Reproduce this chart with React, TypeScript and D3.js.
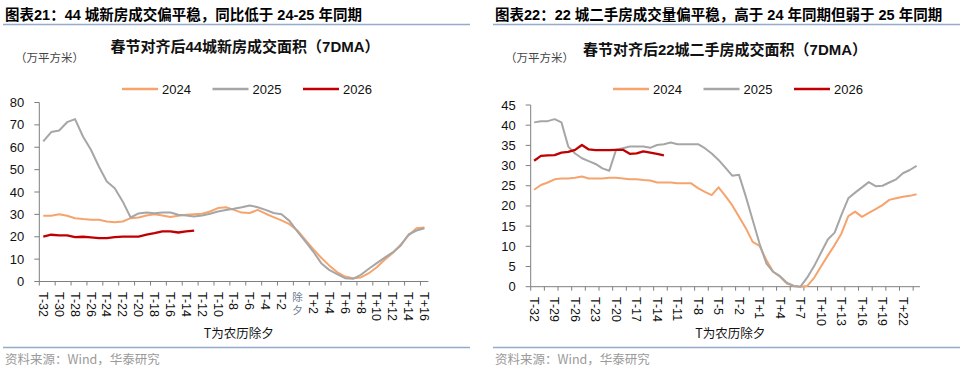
import React, { useRef, useEffect } from "react";
import * as d3 from "d3";

// category labels: T-n ... T-1, 除夕, T+1 ... T+n
const makeDays = (before: number, after: number) => {
  const out: string[] = [];
  for (let k = before; k >= 1; k--) out.push(`T-${k}`);
  out.push("除夕");
  for (let k = 1; k <= after; k++) out.push(`T+${k}`);
  return out;
};

const years = ["2024", "2025", "2026"];
const colors = ["#F5A46E", "#A6A6A6", "#C00000"];

// 44城新房
const newCats = makeDays(32, 16);
const new2024 = [
  29.4, 29.4, 30.1, 29.4, 28.3, 27.9, 27.6, 27.6, 26.8, 26.5, 26.8, 28.3, 28.6,
  29.5, 30.1, 29.5, 28.8, 29.4, 29.8, 30.1, 30.3, 31.3, 32.8, 33.2, 32.0, 30.8,
  30.6, 32.0, 30.3, 28.8, 27.3, 25.6, 22.8, 18.6, 14.5, 10.6, 7.2, 4.2, 2.2, 1.5,
  1.8, 3.7, 6.4, 9.7, 12.7, 16.4, 20.6, 23.8, 24.1,
];
const new2025 = [
  62.6, 66.8, 67.5, 71.2, 72.6, 64.8, 58.9, 51.4, 44.7, 41.7, 35.8, 28.6, 30.4,
  30.8, 30.5, 30.8, 30.8, 29.8, 29.5, 29.1, 29.5, 30.3, 31.3, 32.0, 32.5, 33.2,
  34.0, 33.2, 32.0, 30.6, 30.1, 27.1, 22.4, 17.9, 13.4, 8.2, 5.2, 3.3, 1.5, 1.2,
  3.0, 5.7, 8.2, 10.7, 13.0, 16.0, 21.0, 22.8, 23.8,
];
const new2026 = [
  20.1, 20.9, 20.6, 20.6, 19.8, 20.0, 19.7, 19.4, 19.4, 19.8, 20.1, 20.1, 20.1,
  20.9, 21.6, 22.4, 22.4, 21.9, 22.4, 22.7,
];

// 22城二手房
const usedCats = makeDays(32, 24);
const used2024 = [
  24.0, 25.2, 25.8, 26.6, 26.8, 26.8, 27.0, 27.3, 26.8, 26.8, 26.8, 27.0, 27.0,
  26.8, 26.6, 26.6, 26.4, 26.3, 25.8, 25.8, 25.8, 25.6, 25.6, 25.6, 24.4, 23.5,
  22.7, 24.6, 22.5, 20.2, 17.3, 14.5, 11.1, 10.1, 6.6, 3.7, 2.5, 0.8, 0.2, 0.0,
  0.2, 2.2, 5.0, 7.7, 10.3, 13.2, 17.5, 18.6, 17.3, 18.3, 19.2, 20.2, 21.5, 21.9,
  22.3, 22.5, 22.9,
];
const used2025 = [
  40.7, 41.0, 41.0, 41.5, 40.7, 34.7, 33.0, 31.8, 31.1, 30.4, 29.3, 28.7, 33.9,
  34.3, 34.7, 34.7, 34.7, 34.4, 35.1, 35.3, 35.7, 35.3, 35.3, 35.3, 35.3, 34.3,
  33.0, 31.4, 29.5, 27.5, 27.7, 22.3, 16.5, 10.7, 5.8, 3.7, 2.6, 1.0, 0.2, 0.0,
  2.3, 5.1, 8.4, 11.7, 13.4, 17.8, 21.9, 23.3, 24.6, 25.9, 24.9, 25.0, 25.8, 26.6,
  28.1, 28.9, 29.9,
];
const used2026 = [
  31.2, 32.4, 32.5, 32.6, 33.2, 33.4, 33.9, 35.1, 34.0, 33.8, 33.8, 33.8, 33.9,
  33.9, 32.9, 33.0, 33.5, 33.2, 32.9, 32.5,
];

const LATIN = "Arial, 'Liberation Sans', 'Noto Sans CJK SC', sans-serif";
const CJK = "'Noto Sans CJK SC', 'Liberation Sans', sans-serif";

const panels = [
  {
    left: 0,
    heading: "图表21：44 城新房成交偏平稳，同比低于 24-25 年同期",
    title: "春节对齐后44城新房成交面积（7DMA）",
    titleX: 245,
    titleY: 52,
    cats: newCats,
    series: [new2024, new2025, new2026],
    yMax: 80,
    yStep: 10,
    x0: 39.3,
    x1: 428.4,
    yTop: 102.5,
    yBottom: 281.5,
    labelEvery: 2,
    labelY: 292,
    legendX: 122,
  },
  {
    left: 490,
    heading: "图表22：22 城二手房成交量偏平稳，高于 24 年同期但弱于 25 年同期",
    title: "春节对齐后22城二手房成交面积（7DMA）",
    titleX: 725,
    titleY: 55,
    cats: usedCats,
    series: [used2024, used2025, used2026],
    yMax: 45,
    yStep: 5,
    x0: 530.7,
    x1: 920,
    yTop: 105,
    yBottom: 286.7,
    labelEvery: 3,
    labelY: 297,
    legendX: 613,
  },
];

const App = () => {
  const chartRef = useRef(null);

  useEffect(() => {
    const width = 969;
    const height = 374;

    d3.select(chartRef.current).select("svg").remove();

    const svg = d3
      .select(chartRef.current)
      .append("svg")
      .attr("width", width)
      .attr("height", height)
      .style("position", "absolute")
      .style("left", "0px")
      .style("top", "0px")
      .style("background", "#fff");

    panels.forEach((p) => {
      const g = svg.append("g");
      const L = p.left;

      // heading + rules
      g.append("text")
        .attr("x", L + 5)
        .attr("y", 20)
        .attr("font-family", LATIN)
        .attr("font-size", "14.5px")
        .attr("font-weight", "bold")
        .attr("fill", "#000")
        .text(p.heading);
      g.append("line")
        .attr("x1", L + 3)
        .attr("x2", L + 470)
        .attr("y1", 24.5)
        .attr("y2", 24.5)
        .attr("stroke", "#94ACC9")
        .attr("stroke-width", 1.5);
      g.append("line")
        .attr("x1", L + 3)
        .attr("x2", L + 470)
        .attr("y1", 347.5)
        .attr("y2", 347.5)
        .attr("stroke", "#94ACC9")
        .attr("stroke-width", 1.5);
      g.append("text")
        .attr("x", L + 5)
        .attr("y", 364)
        .attr("font-family", CJK)
        .attr("font-size", "12.5px")
        .attr("fill", "#9A9A9A")
        .text("资料来源：Wind，华泰研究");

      // chart title + unit
      g.append("text")
        .attr("x", p.titleX)
        .attr("y", p.titleY)
        .attr("text-anchor", "middle")
        .attr("font-family", LATIN)
        .attr("font-size", "15px")
        .attr("font-weight", "bold")
        .attr("fill", "#111")
        .text(p.title);
      g.append("text")
        .attr("x", L + 15)
        .attr("y", 62)
        .attr("font-family", CJK)
        .attr("font-size", "11.5px")
        .attr("fill", "#444")
        .text("（万平方米）");

      // legend
      years.forEach((yr, i) => {
        const lx = p.legendX + i * 90.5;
        g.append("line")
          .attr("x1", lx)
          .attr("x2", lx + 36)
          .attr("y1", 89)
          .attr("y2", 89)
          .attr("stroke", colors[i])
          .attr("stroke-width", 2.5);
        g.append("text")
          .attr("x", lx + 40)
          .attr("y", 93.5)
          .attr("font-family", LATIN)
          .attr("font-size", "13px")
          .attr("fill", "#111")
          .text(yr);
      });

      const x = d3
        .scaleBand()
        .domain(p.cats)
        .range([p.x0, p.x1])
        .padding(0);
      const y = d3
        .scaleLinear()
        .domain([0, p.yMax])
        .range([p.yBottom, p.yTop]);
      const cx = (i: number) => (x(p.cats[i]) as number) + x.bandwidth() / 2;

      // y axis
      const axisColor = "#7F7F7F";
      g.append("line")
        .attr("x1", p.x0)
        .attr("x2", p.x0)
        .attr("y1", p.yTop)
        .attr("y2", p.yBottom)
        .attr("stroke", axisColor);
      const yTicks = d3.range(0, p.yMax + 0.001, p.yStep);
      g.selectAll(null)
        .data(yTicks)
        .join("line")
        .attr("x1", p.x0 - 5)
        .attr("x2", p.x0)
        .attr("y1", (d) => y(d))
        .attr("y2", (d) => y(d))
        .attr("stroke", axisColor);
      g.selectAll(null)
        .data(yTicks)
        .join("text")
        .attr("x", p.x0 - 15)
        .attr("y", (d) => y(d))
        .attr("dy", "0.35em")
        .attr("text-anchor", "end")
        .attr("font-family", LATIN)
        .attr("font-size", "13px")
        .attr("fill", "#111")
        .text((d) => d);

      // x axis: ticks between categories every 2
      g.append("line")
        .attr("x1", p.x0)
        .attr("x2", p.x1)
        .attr("y1", p.yBottom)
        .attr("y2", p.yBottom)
        .attr("stroke", axisColor);
      const bounds = p.cats.map((c) => x(c) as number).filter((_, i) => i % 2 === 0);
      g.selectAll(null)
        .data(bounds)
        .join("line")
        .attr("x1", (d) => d)
        .attr("x2", (d) => d)
        .attr("y1", p.yBottom)
        .attr("y2", p.yBottom + 4)
        .attr("stroke", axisColor);

      p.cats.forEach((c, i) => {
        if (i % p.labelEvery !== 0) return;
        if (c === "除夕") {
          g.append("text")
            .attr("x", cx(i))
            .attr("y", p.labelY)
            .style("writing-mode", "vertical-rl")
            .attr("letter-spacing", "2px")
            .attr("font-family", CJK)
            .attr("font-size", "10.5px")
            .attr("fill", "#6B7A90")
            .text(c);
          return;
        }
        g.append("text")
          .attr("transform", `translate(${cx(i)},${p.labelY}) rotate(90)`)
          .attr("dy", "0.35em")
          .attr("font-family", LATIN)
          .attr("font-size", "12.5px")
          .attr("fill", "#111")
          .text(c);
      });

      g.append("text")
        .attr("x", (p.x0 + p.x1) / 2 + 5)
        .attr("y", 338)
        .attr("text-anchor", "middle")
        .attr("font-family", CJK)
        .attr("font-size", "12.5px")
        .attr("fill", "#111")
        .text("T为农历除夕");

      // lines
      const line = d3
        .line<number>()
        .x((_, i) => cx(i))
        .y((d) => y(d));
      p.series.forEach((s, i) => {
        g.append("path")
          .datum(s)
          .attr("fill", "none")
          .attr("stroke", colors[i])
          .attr("stroke-width", i === 2 ? 2.3 : 2)
          .attr("stroke-linejoin", "round")
          .attr("d", line);
      });
    });
  }, []);

  return <div ref={chartRef}></div>;
};

export default App;
